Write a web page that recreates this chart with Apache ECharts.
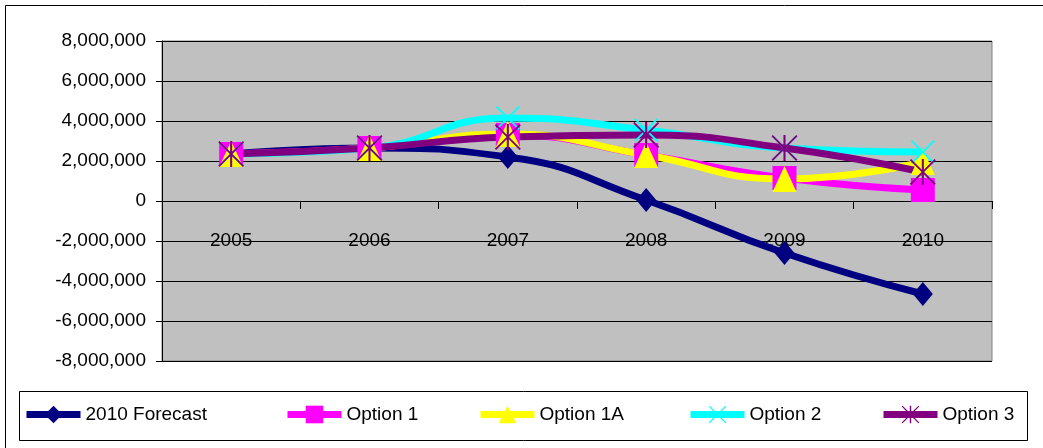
<!DOCTYPE html>
<html>
<head>
<meta charset="utf-8">
<script src="https://cdn.jsdelivr.net/npm/echarts@6/dist/echarts.min.js"></script>
<style>
  html, body { margin: 0; padding: 0; background: #fff; }
  #chart { width: 1043px; height: 448px; }
</style>
</head>
<body>
<div id="chart"></div>
<script>
const years = ['2005', '2006', '2007', '2008', '2009', '2010'];
const forecast2010 = [2350000, 2650000, 2200000, 50000, -2600000, -4650000];
const option1 = [2350000, 2650000, 3300000, 2300000, 1150000, 550000];
const option1A = [2350000, 2650000, 3350000, 2300000, 1100000, 1950000];
const option2 = [2350000, 2650000, 4150000, 3550000, 2650000, 2450000];
const option3 = [2350000, 2650000, 3200000, 3300000, 2650000, 1450000];

const font = 'Liberation Sans, Arial, sans-serif';

// thin X and asterisk markers as filled paths
const crossPath = 'path://M0,5 L5,0 L50,45 L95,0 L100,5 L55,50 L100,95 L95,100 L50,55 L5,100 L0,95 L45,50 Z';
const starPath = crossPath.replace(' Z', ' Z M46,0 L54,0 L54,100 L46,100 Z');

function line(name, data, color, symbol, size) {
  return {
    name: name,
    type: 'line',
    data: data,
    smooth: true,
    symbol: symbol,
    symbolSize: size,
    color: color,
    lineStyle: { width: 7, color: color },
    itemStyle: { color: color },
    animation: false
  };
}

const chart = echarts.init(document.getElementById('chart'));

const legendLefts = [18, 279, 472, 682, 875];
const names = ['2010 Forecast', 'Option 1', 'Option 1A', 'Option 2', 'Option 3'];

chart.setOption({
  animation: false,
  graphic: [
    { type: 'rect', shape: { x: 5.5, y: 5.5, width: 1100, height: 500 },
      style: { fill: 'none', stroke: '#000', lineWidth: 1 }, silent: true },
    { type: 'rect', shape: { x: 19.5, y: 391.5, width: 1008, height: 49 },
      style: { fill: '#fff', stroke: '#000', lineWidth: 1 }, silent: true }
  ],
  legend: names.map((n, i) => ({
    data: [n],
    left: legendLefts[i],
    top: 400,
    itemWidth: 54,
    itemHeight: 22,
    lineStyle: { width: 7 },
    textStyle: { fontFamily: font, fontSize: 19, color: '#000' },
    selectedMode: false
  })),
  grid: {
    left: 162, right: 51, top: 41, bottom: 87,
    show: true,
    backgroundColor: '#C0C0C0',
    borderColor: '#808080',
    borderWidth: 1
  },
  xAxis: {
    type: 'category',
    data: years,
    position: 'bottom',
    offset: -160,
    axisLine: { onZero: false, lineStyle: { color: '#000', width: 1 } },
    axisTick: { show: true, interval: 0, length: 8, lineStyle: { color: '#000' } },
    axisLabel: { margin: 30, fontFamily: font, fontSize: 19, color: '#000' },
    splitLine: { show: false }
  },
  yAxis: {
    type: 'value',
    min: -8000000,
    max: 8000000,
    interval: 2000000,
    axisLine: { show: true, lineStyle: { color: '#000' } },
    axisTick: { show: true, length: 6, lineStyle: { color: '#000' } },
    axisLabel: {
      margin: 16,
      fontFamily: font, fontSize: 19, color: '#000',
      formatter: v => v.toLocaleString('en-US')
    },
    splitLine: { show: true, lineStyle: { color: '#000', width: 1 } }
  },
  series: [
    line('2010 Forecast', forecast2010, '#000080', 'diamond', [20, 24]),
    line('Option 1', option1, '#FF00FF', 'rect', 24),
    line('Option 1A', option1A, '#FFFF00', 'triangle', [24, 26]),
    line('Option 2', option2, '#00FFFF', crossPath, 24),
    line('Option 3', option3, '#800080', starPath, 26)
  ]
});
</script>
</body>
</html>
